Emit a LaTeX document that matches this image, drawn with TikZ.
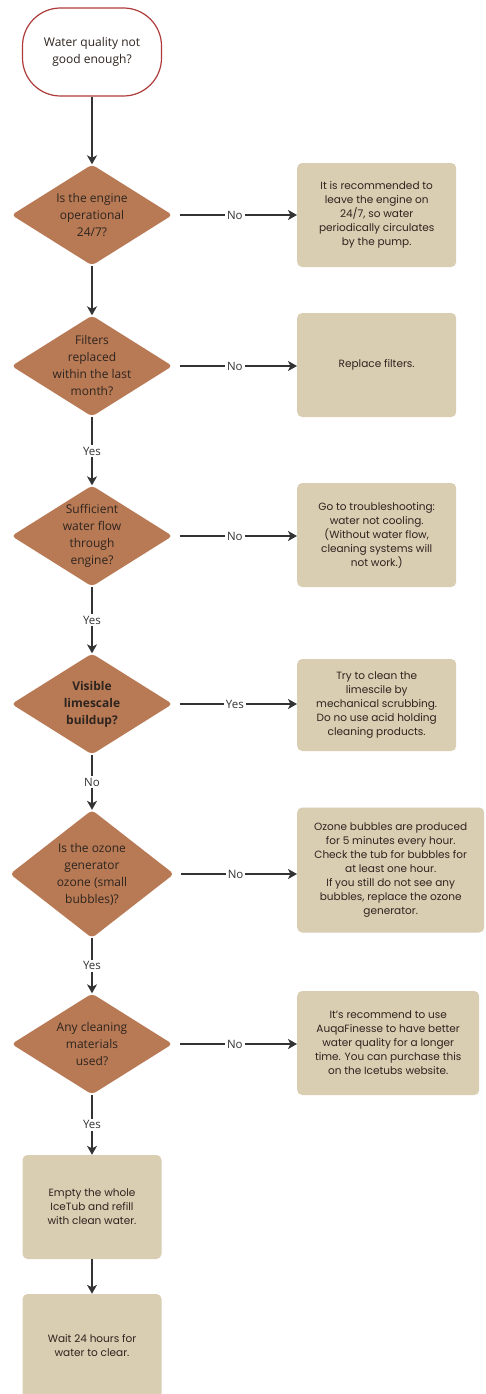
\documentclass[tikz,border=0pt]{standalone}
\usepackage{fontspec}
\setmainfont{Open Sans}
\newfontfamily\boxfont{Poppins}
\usetikzlibrary{shapes.geometric, arrows.meta, positioning}

\definecolor{decisionfill}{HTML}{B87A55}
\definecolor{actionfill}{HTML}{D9CDB2}
\definecolor{startline}{HTML}{B03A3A}
\definecolor{flowline}{HTML}{333333}
\definecolor{inktext}{HTML}{2E241E}

\begin{document}
\begin{tikzpicture}[x=1pt, y=1pt,
    start/.style={rectangle, draw=startline, line width=1.2pt, fill=white, rounded corners=38pt, minimum width=139pt, minimum height=88pt, align=center, font=\fontsize{12}{17}\selectfont, text=inktext},
    decision/.style={diamond, fill=decisionfill, rounded corners=4pt, minimum width=161pt, minimum height=101pt, inner sep=-20pt, align=center, font=\fontsize{12}{17}\selectfont, text=inktext},
    action/.style={rectangle, fill=actionfill, rounded corners=5pt, minimum width=159pt, minimum height=104pt, align=center, font=\boxfont\fontsize{10.5}{14}\selectfont, text=inktext},
    flow/.style={draw=flowline, line width=1.4pt, -{Stealth[length=9pt, width=10pt, inset=2.5pt]}},
    choice/.style={fill=white, inner sep=2pt, font=\fontsize{11.5}{13}\selectfont, text=flowline}
]
\useasboundingbox (0,0) rectangle (485,-1394);

% Start
\node[start] (start) at (92,-52) {Water quality not\\good enough?};

% Decisions and their actions
\node[decision] (qEngine) at (92,-215) {Is the engine\\operational\\24/7?};
\node[action, anchor=west] (aEngine) at (297,-215) {It is recommended to\\leave the engine on\\24/7, so water\\periodically circulates\\by the pump.};

\node[decision] (qFilter) at (92,-366) {Filters\\replaced\\within the last\\month?};
\node[action, anchor=west] (aFilter) at (297,-365) {Replace filters.};

\node[decision] (qFlow) at (92,-536) {Sufficient\\water flow\\through\\engine?};
\node[action, anchor=west] (aFlow) at (297,-535) {Go to troubleshooting:\\water not cooling.\\(Without water flow,\\cleaning systems will\\not work.)};

\node[decision, font=\fontsize{12}{17}\selectfont\bfseries] (qScale) at (92,-704) {Visible\\limescale\\buildup?};
\node[action, anchor=west, minimum height=92pt] (aScale) at (297,-705) {Try to clean the\\limescile by\\mechanical scrubbing.\\Do no use acid holding\\cleaning products.};

\node[decision, minimum width=164pt, minimum height=128pt] (qOzone) at (92,-874) {Is the ozone\\generator\\ozone (small\\bubbles)?};
\node[action, anchor=west, minimum width=187pt, minimum height=125pt] (aOzone) at (297,-870) {Ozone bubbles are produced\\for 5 minutes every hour.\\Check the tub for bubbles for\\at least one hour.\\If you still do not see any\\bubbles, replace the ozone\\generator.};

\node[decision] (qClean) at (92,-1044) {Any cleaning\\materials\\used?};
\node[action, anchor=west, minimum width=182pt] (aClean) at (297,-1043) {It’s recommend to use\\AuqaFinesse to have better\\water quality for a longer\\time. You can purchase this\\on the Icetubs website.};

% Final steps
\node[action, minimum width=139pt] (empty) at (92,-1207) {Empty the whole\\IceTub and refill\\with clean water.};
\node[action, minimum width=139pt] (wait) at (92,-1346) {Wait 24 hours for\\water to clear.};

% Main flow
\draw[flow] (start) -- (qEngine);
\draw[flow] (qEngine) -- (qFilter);
\draw[flow] (qFilter) -- node[choice] {Yes} (qFlow);
\draw[flow] (qFlow) -- node[choice] {Yes} (qScale);
\draw[flow] (qScale) -- node[choice] {No} (qOzone);
\draw[flow] (qOzone) -- node[choice] {Yes} (qClean);
\draw[flow] (qClean) -- node[choice] {Yes} (empty);
\draw[flow] (empty) -- (wait);

% Side branches
\draw[flow, shorten <=7pt] (qEngine.east) -- node[choice] {No} (qEngine.east -| aEngine.west);
\draw[flow, shorten <=7pt] (qFilter.east) -- node[choice] {No} (qFilter.east -| aFilter.west);
\draw[flow, shorten <=7pt] (qFlow.east) -- node[choice] {No} (qFlow.east -| aFlow.west);
\draw[flow, shorten <=7pt] (qScale.east) -- node[choice] {Yes} (qScale.east -| aScale.west);
\draw[flow, shorten <=7pt] (qOzone.east) -- node[choice] {No} (qOzone.east -| aOzone.west);
\draw[flow, shorten <=7pt] (qClean.east) -- node[choice] {No} (qClean.east -| aClean.west);

\end{tikzpicture}
\end{document}
